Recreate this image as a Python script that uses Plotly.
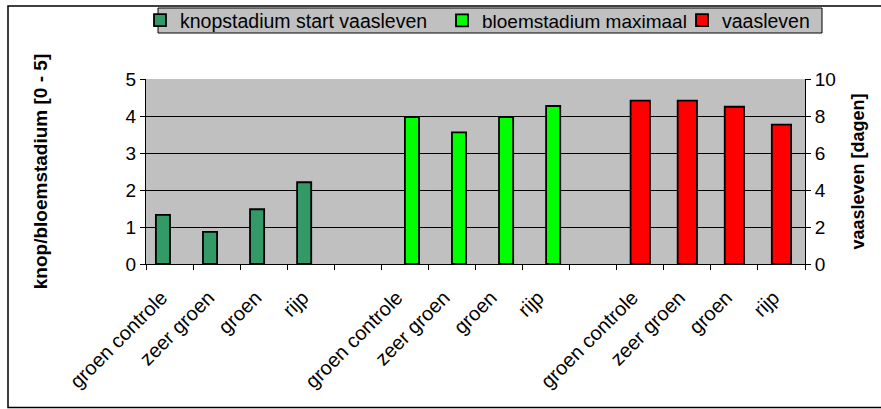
import plotly.graph_objects as go

# Treatments (same four for every measurement)
treatments = ["groen controle", "zeer groen", "groen", "rijp"]

# Measurements
knop_start = [1.33, 0.87, 1.48, 2.21]      # knopstadium start vaasleven [0 - 5]
bloem_max = [3.97, 3.56, 3.97, 4.27]       # bloemstadium maximaal [0 - 5]
vaasleven = [8.83, 8.83, 8.50, 7.53]       # vaasleven [dagen]

series_names = ["knopstadium start vaasleven", "bloemstadium maximaal", "vaasleven"]
series_colors = ["#339966", "#00ff00", "#ff0000"]

# Category slots: three blocks of four treatments separated by an empty slot
blocks = ["knop", "bloem", "vaas"]
slots, labels = [], []
for i, b in enumerate(blocks):
    for t in treatments:
        slots.append(f"{b}:{t}")
        labels.append(t)
    if i < len(blocks) - 1:
        slots.append(f"leeg{i}")
        labels.append("")

W, H = 881, 409
L, R, T, B = 146, 76, 79, 145
pw, ph = W - L - R, H - T - B

def px_x(p):
    return (p - L) / pw

def px_y(p):
    return (H - B - p) / ph

font_family = "Liberation Sans, Arial, sans-serif"

fig = go.Figure()

bar_specs = [
    (knop_start, "knop", -0.29, 0.30, "y", "legend"),
    (bloem_max, "bloem", 0.0, 0.30, "y", "legend2"),
    (vaasleven, "vaas", -0.205, 0.41, "y2", "legend3"),
]
for k, (vals, blk, off, wid, yax, leg) in enumerate(bar_specs):
    fig.add_trace(go.Bar(
        name=series_names[k], x=[f"{blk}:{t}" for t in treatments], y=vals,
        offset=off, width=wid, yaxis=yax, legend=leg,
        marker=dict(color=series_colors[k], line=dict(color="black", width=1.8)),
    ))

# One horizontal legend per entry so each sits at its own place inside the
# shared box; positioned relative to the container
legend_text_x = [184, 486, 726]
legend_sizes = [19.5, 19, 19.5]
legends = {}
for k, name in enumerate(["legend", "legend2", "legend3"]):
    legends[name] = dict(
        orientation="h",
        xref="container", yref="container",
        x=(legend_text_x[k] - 44) / W, y=1 - 20.5 / H,
        xanchor="left", yanchor="middle",
        bgcolor="rgba(0,0,0,0)", borderwidth=0,
        font=dict(size=legend_sizes[k], family=font_family),
        itemwidth=30, itemclick=False, itemdoubleclick=False,
    )

fig.update_layout(
    width=W, height=H,
    margin=dict(l=L, r=R, t=T, b=B, pad=0),
    paper_bgcolor="white",
    plot_bgcolor="#c0c0c0",
    barmode="overlay",
    font=dict(family=font_family, size=19, color="black"),
    showlegend=True,
    **legends,
    xaxis=dict(
        type="category",
        categoryorder="array", categoryarray=slots,
        tickmode="array", tickvals=slots, ticktext=labels,
        tickson="boundaries", ticks="outside", ticklen=5, tickcolor="black",
        tickangle=-45, ticklabelstandoff=13, ticklabelshift=-8,
        showline=True, linecolor="black", linewidth=1,
        showgrid=False, range=[-0.5, len(slots) - 0.5],
        tickfont=dict(size=20),
    ),
    yaxis=dict(
        range=[0, 5], dtick=1, ticks="outside", ticklen=5, tickcolor="black",
        showline=True, linecolor="black", linewidth=1,
        showgrid=True, gridcolor="black", gridwidth=1,
        zeroline=False,
        title=dict(text="<b>knop/bloemstadium [0 - 5]</b>", font=dict(size=19), standoff=72),
        tickfont=dict(size=19),
    ),
    yaxis2=dict(
        range=[0, 10], dtick=2, overlaying="y", side="right",
        ticks="outside", ticklen=5, tickcolor="black",
        showline=True, linecolor="black", linewidth=1,
        showgrid=False, zeroline=False,
        title=dict(text="<b>vaasleven [dagen]</b>", font=dict(size=18), standoff=16),
        tickfont=dict(size=19),
    ),
    shapes=[
        # outer chart frame
        dict(type="rect", xref="paper", yref="paper",
             x0=px_x(8), x1=px_x(W + 5), y0=px_y(H - 1.5), y1=px_y(6),
             line=dict(color="black", width=1.5), fillcolor="rgba(0,0,0,0)",
             layer="below"),
        # legend box
        dict(type="rect", xref="paper", yref="paper",
             x0=px_x(158), x1=px_x(822), y0=px_y(33), y1=px_y(8),
             line=dict(color="black", width=1), fillcolor="#c0c0c0",
             layer="below"),
    ],
)

fig.write_html("out.html")
